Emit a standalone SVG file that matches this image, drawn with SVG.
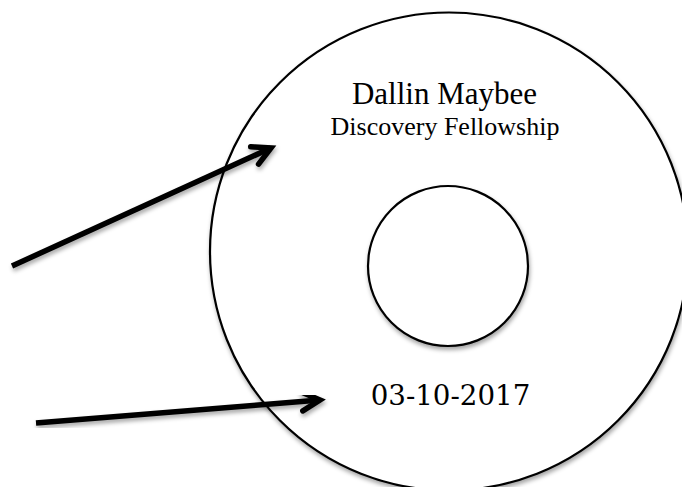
<svg xmlns="http://www.w3.org/2000/svg" width="682" height="487" viewBox="0 0 682 487">
  <defs>
    <filter id="sh" x="-20%" y="-20%" width="140%" height="140%">
      <feDropShadow dx="1" dy="3" stdDeviation="2" flood-color="#000" flood-opacity="0.35"/>
    </filter>
    <marker id="head" markerUnits="userSpaceOnUse" markerWidth="40" markerHeight="40" viewBox="-25 -20 30 40" refX="0" refY="0" orient="auto" overflow="visible">
      <path d="M -18 -9.5 L 0 0 L -18 9.5" fill="none" stroke="#000" stroke-width="5.5" stroke-linecap="round" stroke-linejoin="miter"/>
    </marker>
    <style>
      .ring { fill: #fff; stroke: #000; stroke-width: 2.2; filter: url(#sh); }
      .arrow { fill: none; stroke: #000; stroke-width: 5.5; marker-end: url(#head); filter: url(#sh); }
      .t { fill: #000; text-anchor: middle; }
      .serif { font-family: "Liberation Serif", "Times New Roman", serif; }
      .date { font-family: "DejaVu Serif", serif; }
    </style>
  </defs>
  <rect x="0" y="0" width="682" height="487" fill="#fff"/>
  <g id="disc">
    <circle class="ring" cx="449" cy="251.5" r="239"/>
  </g>
  <g id="hole">
    <circle class="ring" cx="448" cy="266" r="80"/>
  </g>
  <g id="labels">
    <text class="t serif" x="444.5" y="103.5" font-size="31">Dallin Maybee</text>
    <text class="t serif" x="445" y="135" font-size="26">Discovery Fellowship</text>
    <text class="t date" x="450.5" y="405" font-size="27.7">03-10-2017</text>
  </g>
  <g id="connectors">
    <line class="arrow" x1="12" y1="266" x2="271" y2="148"/>
    <line class="arrow" x1="36" y1="423" x2="320" y2="400"/>
  </g>
</svg>
